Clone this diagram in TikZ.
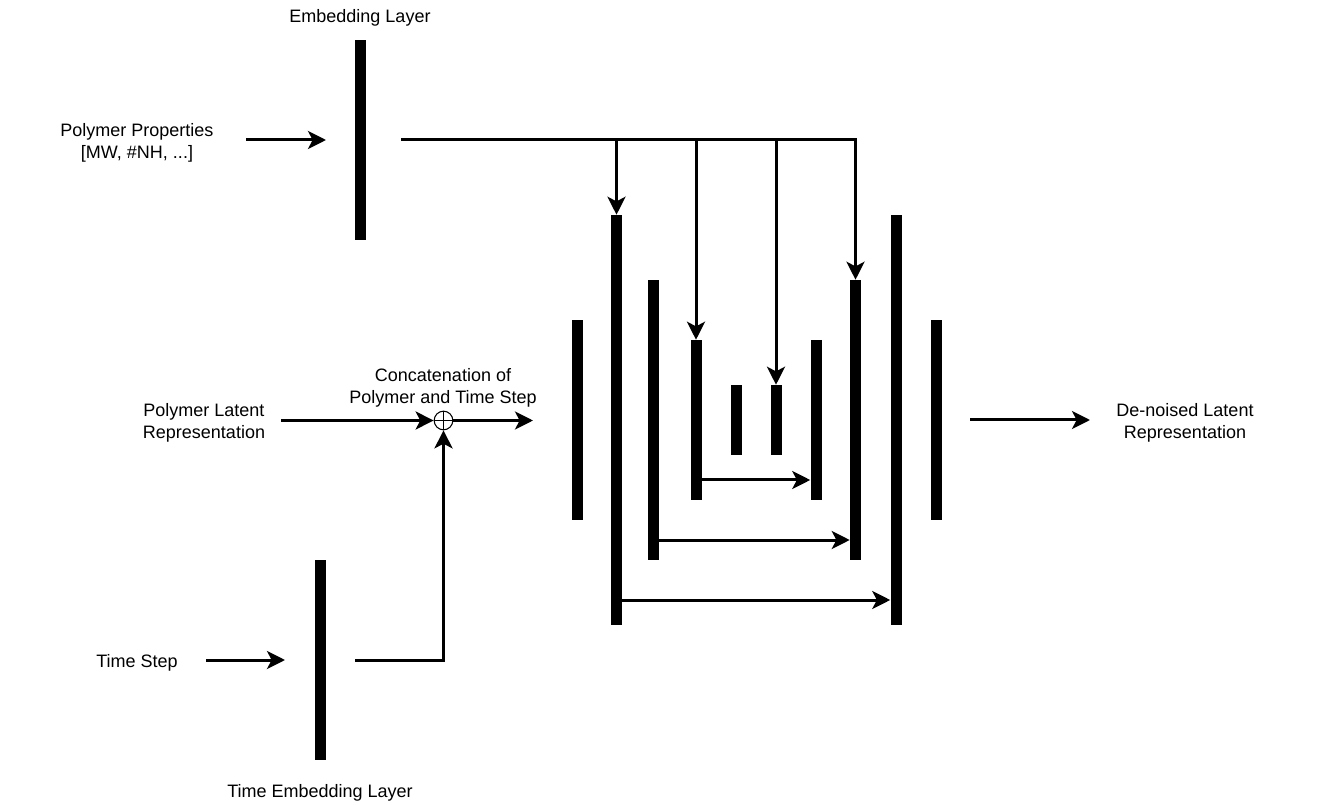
\documentclass[tikz,border=0pt]{standalone}
\usepackage{fontspec}
\setmainfont{Liberation Sans}
\usetikzlibrary{arrows.meta}
\begin{document}
\begin{tikzpicture}[x=0.75pt,y=-0.75pt,
  bar/.style={fill=black, draw=none, inner sep=0pt, minimum width=8.25pt},
  conn/.style={line width=2.25pt, -{Stealth[length=13.5pt,width=13.5pt,inset=3.5pt]}},
  lbl/.style={font=\fontsize{13.5}{16.5}\selectfont, align=center, inner sep=0pt}]
\useasboundingbox (0,0) rectangle (1325,805);

% embedding layers
\node[bar, minimum height=150pt] (emb) at (360.5,140) {};
\node[bar, minimum height=150pt] (temb) at (320.5,660) {};

% U-shaped stack of layers
\node[bar, minimum height=150pt]   (A) at (577,420) {};
\node[bar, minimum height=307.5pt] (B) at (616.5,420) {};
\node[bar, minimum height=210pt]   (C) at (653.5,420) {};
\node[bar, minimum height=120pt]   (D) at (696,420) {};
\node[bar, minimum height=52.5pt]  (E) at (736,420) {};
\node[bar, minimum height=52.5pt]  (F) at (776,420) {};
\node[bar, minimum height=120pt]   (G) at (816,420) {};
\node[bar, minimum height=210pt]   (H) at (855.5,420) {};
\node[bar, minimum height=307.5pt] (I) at (896,420) {};
\node[bar, minimum height=150pt]   (J) at (936,420) {};

% labels
\node[lbl] (tEmb) at (360,18) {Embedding Layer};
\node[lbl] (tProp) at (137,143) {Polymer Properties\\{}[MW, \#NH, ...]};
\node[lbl] (tLat) at (204,423) {Polymer Latent\\Representation};
\node[lbl] (tCat) at (443,388) {Concatenation of\\Polymer and Time Step};
\node[lbl] (tTime) at (137,663) {Time Step};
\node[lbl] (tTEmb) at (320,793) {Time Embedding Layer};
\node[lbl] (tOut) at (1185,423) {De-noised Latent\\Representation};

% concatenation operator
\node[circle, draw, line width=0.8pt, minimum size=14pt, inner sep=0pt, fill=white] (cat) at (443.5,420.5) {};
\draw[line width=0.8pt] (cat.north) -- (cat.south) (cat.west) -- (cat.east);

% connector end points
\coordinate (pIn) at (246,140);
\coordinate (pEnd) at (326,140);
\coordinate (bus0) at (401,140);
\coordinate (b1) at (616.5,140);
\coordinate (b2) at (696,140);
\coordinate (b3) at (776,140);
\coordinate (lIn) at (281,420.5);
\coordinate (cOut) at (533,420.5);
\coordinate (tIn) at (206,660);
\coordinate (tEnd) at (285,660);
\coordinate (teOut) at (355,660);
\coordinate (oIn) at (970,420);
\coordinate (oEnd) at (1090,420);

% property conditioning
\draw[conn] (pIn) -- (pEnd);
\draw[conn] (bus0) -| (H.north);
\draw[conn] (b1) -- (B.north);
\draw[conn] (b2) -- (D.north);
\draw[conn] (b3) -- (F.north);

% latent and time inputs
\draw[conn] (lIn) -- (cat.west);
\draw[conn] (cat.east) -- (cOut);
\draw[conn] (tIn) -- (tEnd);
\draw[conn] (teOut) -| (cat.south);

% skip connections
\draw[conn] ([yshift=-45pt]D.east) -- ([yshift=-45pt]G.west);
\draw[conn] ([yshift=-90pt]C.east) -- ([yshift=-90pt]H.west);
\draw[conn] ([yshift=-135pt]B.east) -- ([yshift=-135pt]I.west);

% output
\draw[conn] (oIn) -- (oEnd);
\end{tikzpicture}
\end{document}
